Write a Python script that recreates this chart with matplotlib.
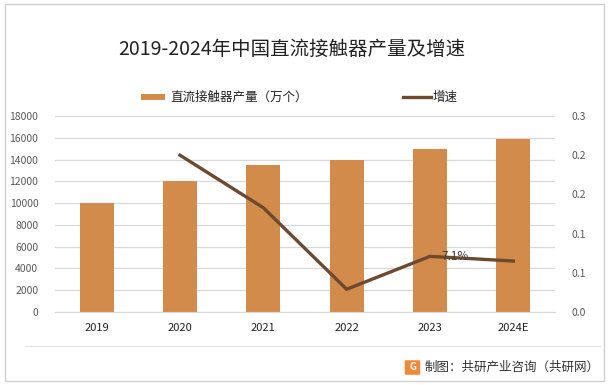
import matplotlib
matplotlib.use("Agg")
import matplotlib.pyplot as plt
from matplotlib.patches import Rectangle, FancyBboxPatch
import numpy as np

plt.rcParams['font.family'] = ['Noto Sans CJK SC', 'DejaVu Sans']

# ---- data ----
years = ["2019", "2020", "2021", "2022", "2023", "2024E"]
production = [10000, 12000, 13500, 14000, 15000, 15900]
growth_years = ["2020", "2021", "2022", "2023", "2024E"]
growth = [0.200, 0.133, 0.029, 0.071, 0.065]
left_ticks = [0, 2000, 4000, 6000, 8000, 10000, 12000, 14000, 16000, 18000]
right_ticks = [0.0, 0.05, 0.10, 0.15, 0.20, 0.25]
right_labels = ["0.0", "0.1", "0.1", "0.2", "0.2", "0.3"]
label_year = "2023"
label_text = "7.1%"

title = "2019-2024年中国直流接触器产量及增速"
bar_name = "直流接触器产量（万个）"
line_name = "增速"
source = "制图：共研产业咨询（共研网）"

BAR_C = "#D38B4C"
LINE_C = "#6B4A30"
GRID_C = "#D9D9D9"
TXT_C = "#595959"

W, H = 614, 385
fig = plt.figure(figsize=(W / 100, H / 100), dpi=100)

# outer border
fig.patches.append(Rectangle((5 / W, 4 / H), 599 / W, 377 / H, transform=fig.transFigure,
                             fill=False, edgecolor="#D0D0D0", linewidth=1))

ax = fig.add_axes([55 / W, 1 - 312 / H, 500 / W, 196 / H])
x = np.arange(len(years))
ax.bar(x, production, width=0.41, color=BAR_C, zorder=2)
ax.set_ylim(0, 18000)
ax.set_xlim(-0.5, len(years) - 0.5)
ax.set_yticks(left_ticks)
ax.set_yticklabels([str(v) for v in left_ticks], fontsize=7.5, color=TXT_C)
ax.set_xticks(x)
ax.set_xticklabels(years, fontsize=8, color="#222222")
ax.grid(axis='y', color=GRID_C, linewidth=0.9, zorder=0)
ax.set_axisbelow(True)
for s in ["top", "right", "left"]:
    ax.spines[s].set_visible(False)
ax.spines["bottom"].set_color(GRID_C)
ax.tick_params(axis='both', length=0)
ax.tick_params(axis='y', pad=12)
ax.tick_params(axis='x', pad=8)

ax2 = ax.twinx()
gx = [years.index(y) for y in growth_years]
ax2.plot(gx, growth, color=LINE_C, linewidth=2.4, solid_joinstyle='miter', zorder=3)
ax2.set_ylim(0, 0.25)
ax2.set_yticks(right_ticks)
ax2.set_yticklabels(right_labels, fontsize=7.5, color=TXT_C)
ax2.tick_params(axis='y', length=0, pad=12)
for s in ["top", "right", "left", "bottom"]:
    ax2.spines[s].set_visible(False)
li = growth_years.index(label_year)
ax2.annotate(label_text, (gx[li], growth[li]), xytext=(8, 0), textcoords="offset points",
             ha="left", va="center", fontsize=8.5, color="#404040", zorder=4)

# title
fig.text(292 / W, 1 - 49 / H, title, ha="center", va="center", fontsize=14, color="#222222")

# legend
fig.patches.append(Rectangle((141 / W, 1 - 100 / H), 24 / W, 6 / H, transform=fig.transFigure,
                             facecolor=BAR_C, edgecolor="none"))
fig.text(170 / W, 1 - 97 / H, bar_name, ha="left", va="center", fontsize=9, color="#222222")
fig.lines.append(plt.Line2D([403 / W, 431 / W], [1 - 97 / H, 1 - 97 / H], transform=fig.transFigure,
                            color=LINE_C, linewidth=2.4))
fig.text(433 / W, 1 - 97 / H, line_name, ha="left", va="center", fontsize=9, color="#222222")

# separator and source
fig.lines.append(plt.Line2D([25 / W, 600 / W], [1 - 346 / H, 1 - 346 / H], transform=fig.transFigure,
                            color="#E3E3E3", linewidth=0.8))
fig.patches.append(FancyBboxPatch((406 / W, 1 - 374 / H), 13 / W, 13 / H, transform=fig.transFigure,
                                  boxstyle="round,pad=0.002", facecolor="#F08A3A", edgecolor="none"))
fig.text(412.5 / W, 1 - 367.5 / H, "G", ha="center", va="center", fontsize=7, color="white",
         fontweight="bold")
fig.text(600 / W, 1 - 367 / H, source, ha="right", va="center", fontsize=9, color="#333333")

fig.savefig("out.png", dpi=100)
